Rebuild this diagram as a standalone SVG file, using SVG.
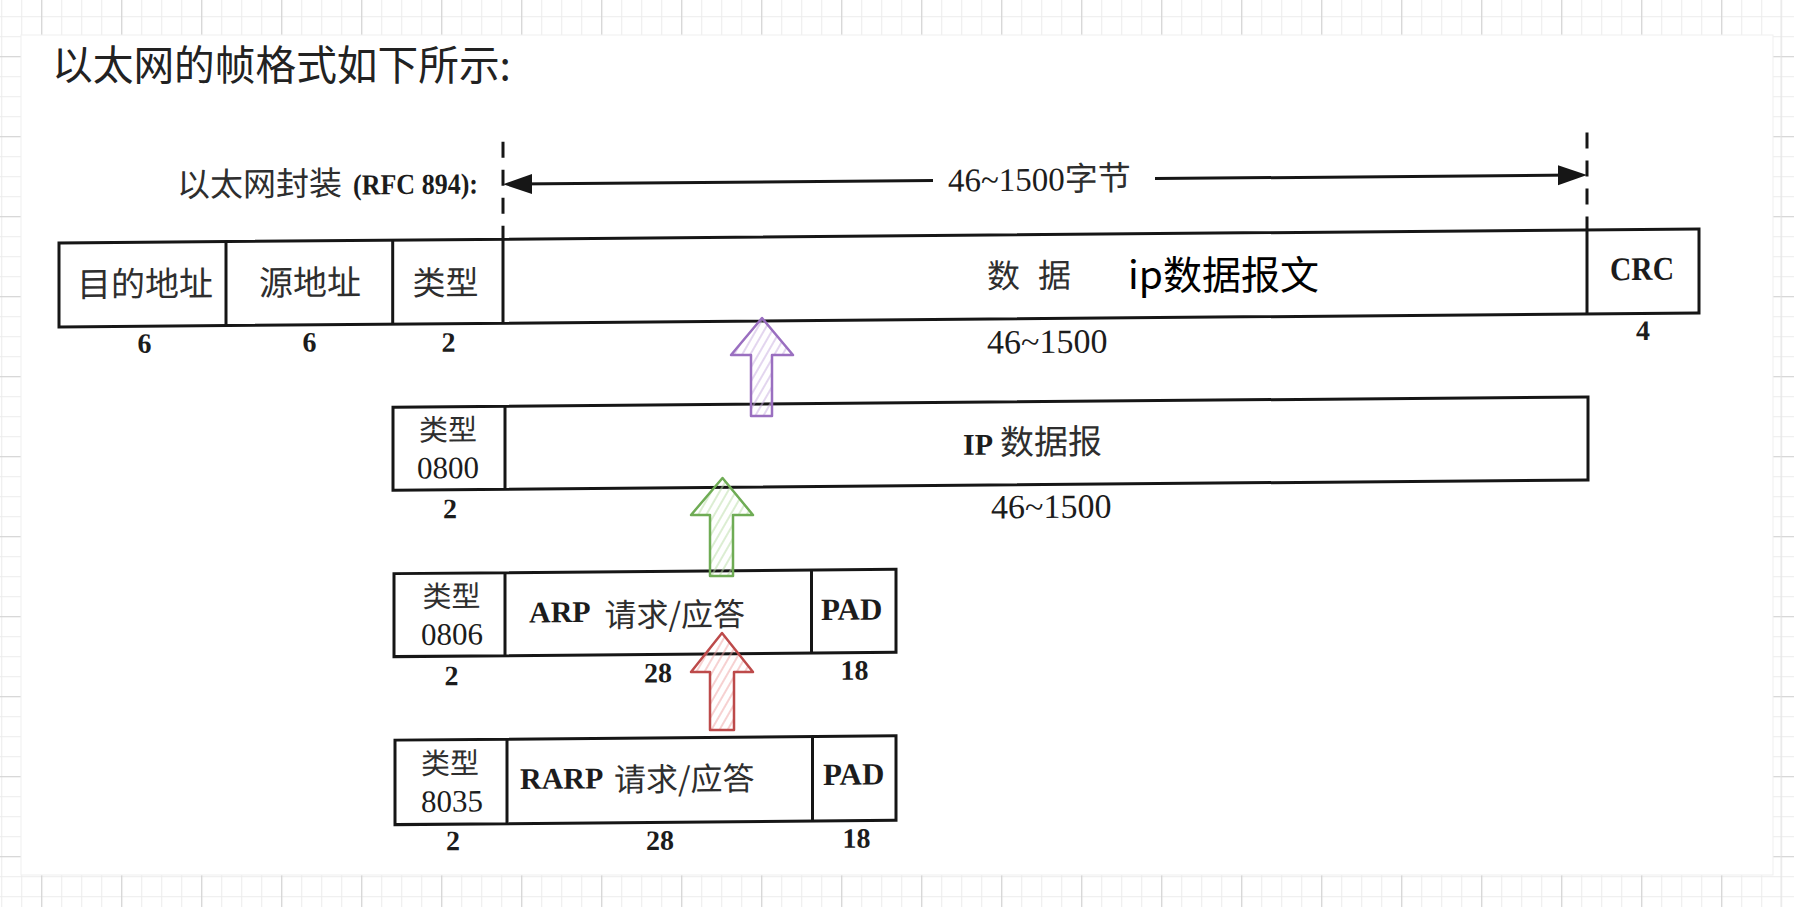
<svg xmlns="http://www.w3.org/2000/svg" width="1794" height="907" viewBox="0 0 1794 907">
<style>
  .box{fill:none;stroke:#161616;stroke-width:3;stroke-linejoin:miter}
  .div{stroke:#161616;stroke-width:3}
  .cjk{font-family:"Noto Sans CJK SC","Noto Sans",sans-serif;fill:#2e2e2e}
  .ser{font-family:"Liberation Serif",serif;fill:#1c1c1c}
  .b{font-weight:bold}
  .mid{text-anchor:middle}
  .num{font-family:"Liberation Serif",serif;font-weight:bold;font-size:28px;fill:#1c1c1c;text-anchor:middle}
  .dash{stroke:#161616;stroke-width:3;stroke-dasharray:16 12}
  .dim{stroke:#161616;stroke-width:3;fill:none}
  .blk{stroke-width:2.5;stroke-linejoin:round}
</style>
<defs>
  <pattern id="gMinor" patternUnits="userSpaceOnUse" x="1.2" y="16.2" width="20" height="20">
    <path d="M0 0.5H20M0.5 0V20" stroke="#ececec" stroke-width="1.2" fill="none"/>
  </pattern>
  <pattern id="gMajor" patternUnits="userSpaceOnUse" x="41.2" y="56.2" width="80" height="80">
    <path d="M0 0.5H80M0.5 0V80" stroke="#d2d2d2" stroke-width="1.2" fill="none"/>
  </pattern>
  <pattern id="hPurple" patternUnits="userSpaceOnUse" width="7" height="7" patternTransform="rotate(30)">
    <line x1="1" y1="0" x2="1" y2="7" stroke="#c7addf" stroke-width="1"/>
  </pattern>
  <pattern id="hGreen" patternUnits="userSpaceOnUse" width="7" height="7" patternTransform="rotate(30)">
    <line x1="1" y1="0" x2="1" y2="7" stroke="#b9dca6" stroke-width="1"/>
  </pattern>
  <pattern id="hRed" patternUnits="userSpaceOnUse" width="7" height="7" patternTransform="rotate(30)">
    <line x1="1" y1="0" x2="1" y2="7" stroke="#eea3a3" stroke-width="1"/>
  </pattern>
  <marker id="ah" markerUnits="userSpaceOnUse" markerWidth="32" markerHeight="24" refX="17" refY="10" orient="auto">
    <path d="M0 0L29 10L0 20Z" fill="#161616"/>
  </marker>
</defs>

<!-- page background grid -->
<g id="background">
  <rect x="0" y="0" width="1794" height="907" fill="#ffffff"/>
  <rect x="0" y="0" width="1794" height="907" fill="url(#gMinor)"/>
  <rect x="0" y="0" width="1794" height="907" fill="url(#gMajor)"/>
  <rect x="21" y="35" width="1752" height="840" fill="#ffffff" stroke="#efefef" stroke-width="1"/>
  <line x1="1781" y1="0" x2="1781" y2="907" stroke="#e6e6e6" stroke-width="1"/>
</g>

<g id="title">
  <text class="cjk" x="52" y="80" font-size="40.7" style="fill:#222">以太网的帧格式如下所示:</text>
</g>

<g id="encap-label" transform="skewY(-0.49)">
  <text class="cjk" x="177" y="198" font-size="33">以太网封装</text>
  <text class="ser b" x="353" y="197.5" font-size="29" textLength="125" lengthAdjust="spacingAndGlyphs">(RFC 894):</text>
</g>

<g id="frame-ethernet" transform="skewY(-0.49)">
  <rect class="box" x="59" y="243.5" width="1640" height="84"/>
  <line class="div" x1="226" y1="243.5" x2="226" y2="327.5"/>
  <line class="div" x1="392.7" y1="243.5" x2="392.7" y2="327.5"/>
  <line class="div" x1="503" y1="243.5" x2="503" y2="327.5"/>
  <line class="div" x1="1587" y1="243.5" x2="1587" y2="327.5"/>
  <text class="cjk mid" x="145" y="297.5" font-size="34">目的地址</text>
  <text class="cjk mid" x="310" y="297.5" font-size="34">源地址</text>
  <text class="cjk mid" x="445.5" y="298.5" font-size="33">类型</text>
  <text class="cjk" x="987" y="296.5" font-size="33" textLength="84" lengthAdjust="spacing">数 据</text>
  <text class="ser b mid" x="1642" y="294" font-size="33" textLength="64" lengthAdjust="spacingAndGlyphs">CRC</text>
  <text class="num" x="144.5" y="354">6</text>
  <text class="num" x="309.5" y="354">6</text>
  <text class="num" x="448.5" y="355.5">2</text>
  <text class="ser" x="987" y="362" font-size="34">46~1500</text>
  <text class="num" x="1643" y="354">4</text>
</g>

<g id="ip-note">
  <text x="1128" y="289" font-size="39" style="font-family:'Noto Sans CJK SC','Noto Sans',sans-serif;fill:#000">ip数据报文</text>
</g>

<g id="frame-ip" transform="skewY(-0.49)">
  <rect class="box" x="393" y="410.5" width="1195" height="83"/>
  <line class="div" x1="505" y1="410.5" x2="505" y2="493.5"/>
  <text class="cjk mid" x="448" y="444" font-size="29">类型</text>
  <text class="ser mid" x="448" y="482" font-size="31">0800</text>
  <text x="963" y="463" font-size="34"><tspan class="ser b" font-size="30">IP</tspan><tspan class="cjk" x="1000">数据报</tspan></text>
  <text class="num" x="450" y="522">2</text>
  <text class="ser" x="991" y="527" font-size="34">46~1500</text>
</g>

<g id="frame-arp" transform="skewY(-0.49)">
  <rect class="box" x="394" y="577" width="502" height="83"/>
  <line class="div" x1="505" y1="577" x2="505" y2="660"/>
  <line class="div" x1="811.5" y1="577" x2="811.5" y2="660"/>
  <text class="cjk mid" x="451.5" y="610.5" font-size="29">类型</text>
  <text class="ser mid" x="452" y="648.5" font-size="31">0806</text>
  <text class="ser b" x="529" y="627" font-size="30">ARP</text>
  <text class="cjk" x="604.5" y="632" font-size="32">请求/应答</text>
  <text class="ser b" x="821" y="627" font-size="31">PAD</text>
  <text class="num" x="451.5" y="689">2</text>
  <text class="num" x="658" y="688">28</text>
  <text class="num" x="854.5" y="687">18</text>
</g>

<g id="frame-rarp" transform="skewY(-0.49)">
  <rect class="box" x="395" y="743.5" width="501" height="84.5"/>
  <line class="div" x1="507" y1="743.5" x2="507" y2="828"/>
  <line class="div" x1="812.5" y1="743.5" x2="812.5" y2="828"/>
  <text class="cjk mid" x="450" y="777.5" font-size="29">类型</text>
  <text class="ser mid" x="452" y="815.5" font-size="31">8035</text>
  <text class="ser b" x="520" y="793.5" font-size="30">RARP</text>
  <text class="cjk" x="614" y="796.5" font-size="32">请求/应答</text>
  <text class="ser b" x="823" y="792" font-size="31">PAD</text>
  <text class="num" x="453" y="854">2</text>
  <text class="num" x="660" y="855.5">28</text>
  <text class="num" x="856.5" y="855">18</text>
</g>

<g id="connectors">
  <g id="dimension" transform="skewY(-0.49)">
    <line class="dash" x1="503" y1="146" x2="503" y2="243.5"/>
    <line class="dash" x1="1587" y1="146" x2="1587" y2="243.5"/>
    <line class="dim" x1="933" y1="188.5" x2="515" y2="188.5" marker-end="url(#ah)"/>
    <line class="dim" x1="1155" y1="188.5" x2="1575" y2="188.5" marker-end="url(#ah)"/>
    <text class="ser" x="948" y="199.5" font-size="33">46~1500<tspan class="cjk" font-size="33">字节</tspan></text>
  </g>
  <path id="arrow-purple" class="blk" d="M751 416L751 355L731 355L762 318L793 355L772 355L772 416Z" fill="url(#hPurple)" stroke="#9a6fc0"/>
  <path id="arrow-green" class="blk" d="M710 576L710 515L691 515L722.5 478L753 515L733 515L733 576Z" fill="url(#hGreen)" stroke="#6fac55"/>
  <path id="arrow-red" class="blk" d="M710 730L710 672L691 672L722 633L753 672L734 672L734 730Z" fill="url(#hRed)" stroke="#bd4a4a"/>
</g>
</svg>
